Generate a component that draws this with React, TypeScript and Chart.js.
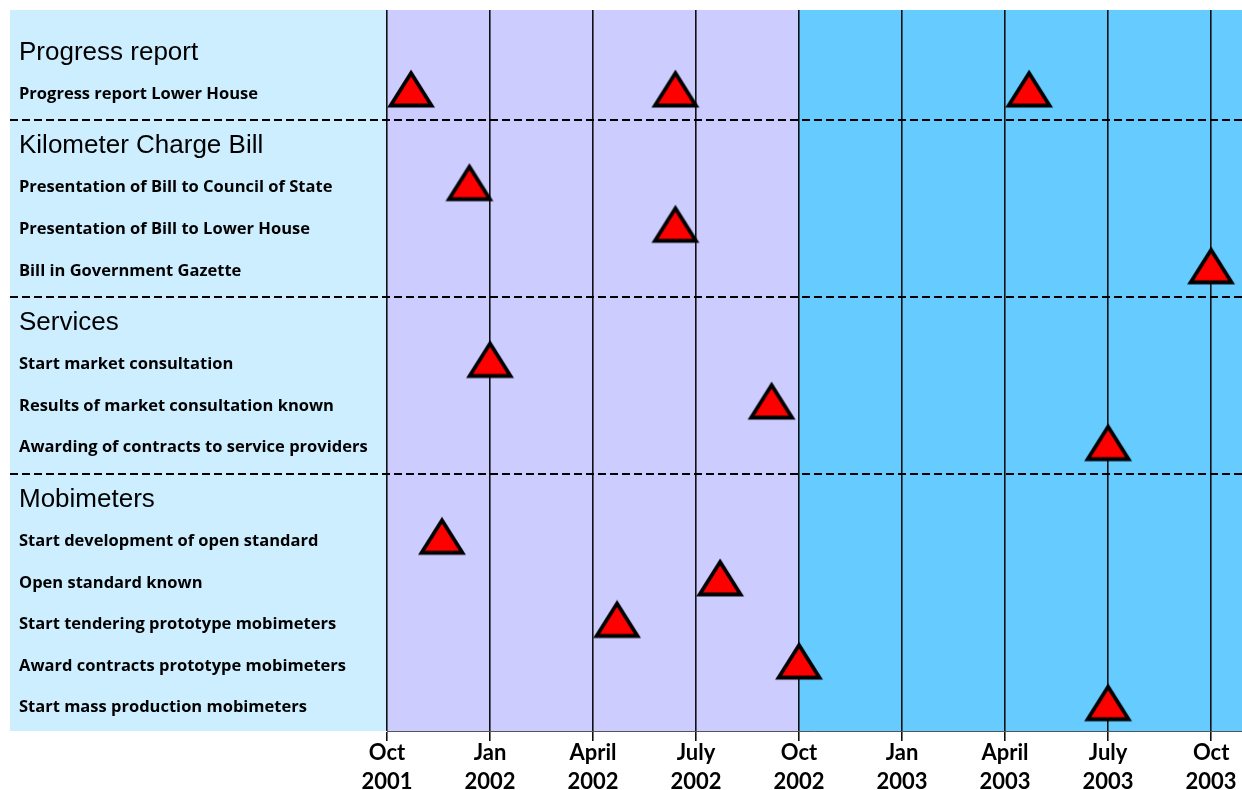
import React, { useEffect, useRef } from 'react';
import { Chart, registerables } from 'chart.js';

Chart.register(...registerables);

// ---------- data ----------
const groupNames = ['Progress report', 'Kilometer Charge Bill', 'Services', 'Mobimeters'];
const taskNames = [
  'Progress report Lower House',
  'Presentation of Bill to Council of State',
  'Presentation of Bill to Lower House',
  'Bill in Government Gazette',
  'Start market consultation',
  'Results of market consultation known',
  'Awarding of contracts to service providers',
  'Start development of open standard',
  'Open standard known',
  'Start tendering prototype mobimeters',
  'Award contracts prototype mobimeters',
  'Start mass production mobimeters',
];
const taskGroup = [0, 1, 1, 1, 2, 2, 2, 3, 3, 3, 3, 3];
// milestones: task index and date in months after 1 Oct 2001
const milestoneTask = [0, 0, 0, 1, 2, 3, 4, 5, 6, 7, 8, 9, 10, 11];
const milestoneMonth = [0.7, 8.4, 18.7, 2.4, 8.4, 24.0, 3.0, 11.2, 21.0, 1.6, 9.7, 6.7, 12.0, 21.0];
const tickMonths = ['Oct', 'Jan', 'April', 'July', 'Oct', 'Jan', 'April', 'July', 'Oct'];
const tickYears = ['2001', '2002', '2002', '2002', '2002', '2003', '2003', '2003', '2003'];
const tickStep = 3; // months between ticks
const phaseEndMonth = 12; // Oct 2002: end of first (purple) phase
const axisMaxMonth = 24.9;

// ---------- layout helpers ----------
const GROUP_GAP = 0.25;
type Row = { label: string; header: boolean; pos: number };
const rows: Row[] = [];
const taskPos: number[] = [];
const separators: number[] = [];
(() => {
  let k = 0;
  let n = 0;
  groupNames.forEach((g, gi) => {
    if (gi > 0) n++;
    const hp = k + GROUP_GAP * n;
    if (gi > 0) separators.push((hp + rows[rows.length - 1].pos) / 2);
    rows.push({ label: g, header: true, pos: hp });
    k++;
    taskNames.forEach((t, ti) => {
      if (taskGroup[ti] !== gi) return;
      const p = k + GROUP_GAP * n;
      rows.push({ label: t, header: false, pos: p });
      taskPos[ti] = p;
      k++;
    });
  });
})();

function makeTriangle(): HTMLCanvasElement {
  const c = document.createElement('canvas');
  c.width = 52;
  c.height = 50;
  const g = c.getContext('2d')!;
  g.beginPath();
  g.moveTo(26, 4);
  g.lineTo(46.5, 36.5);
  g.lineTo(5.5, 36.5);
  g.closePath();
  g.fillStyle = '#FF0000';
  g.fill();
  g.lineWidth = 3.8;
  g.lineJoin = 'miter';
  g.strokeStyle = '#000000';
  g.stroke();
  return c;
}

const bgPlugin = {
  id: 'bgPanels',
  beforeDraw(chart: any) {
    const { ctx, chartArea: a, scales } = chart;
    const x = scales.x;
    const h = a.bottom - a.top;
    ctx.save();
    ctx.fillStyle = '#CCEEFF';
    ctx.fillRect(10, a.top, a.left - 10, h);
    const xm = x.getPixelForValue(phaseEndMonth);
    ctx.fillStyle = '#CCCCFF';
    ctx.fillRect(a.left, a.top, xm - a.left, h);
    ctx.fillStyle = '#66CCFF';
    ctx.fillRect(xm, a.top, a.right - xm, h);
    ctx.restore();
  },
  beforeDatasetsDraw(chart: any) {
    const { ctx, chartArea: a, scales } = chart;
    const y = scales.y;
    ctx.save();
    ctx.strokeStyle = '#000000';
    ctx.lineWidth = 2;
    ctx.setLineDash([8, 4]);
    separators.forEach((s) => {
      const py = Math.round(y.getPixelForValue(s));
      ctx.beginPath();
      ctx.moveTo(10, py);
      ctx.lineTo(a.right, py);
      ctx.stroke();
    });
    ctx.restore();
  },
};

export default function App() {
  const ref = useRef<HTMLCanvasElement | null>(null);
  useEffect(() => {
    if (!ref.current) return;
    const tri = makeTriangle();
    const points = milestoneTask.map((t, i) => ({ x: milestoneMonth[i], y: taskPos[t] }));
    const first = rows[0].pos;
    const last = rows[rows.length - 1].pos;
    const chart = new Chart(ref.current, {
      type: 'scatter',
      data: {
        datasets: [
          {
            data: points,
            pointStyle: tri as any,
            showLine: false,
          },
        ],
      },
      options: {
        animation: false,
        responsive: false,
        events: [],
        layout: { autoPadding: false, padding: { left: 19, top: 10, right: 0, bottom: 0 } },
        plugins: { legend: { display: false }, tooltip: { enabled: false } },
        scales: {
          x: {
            type: 'linear',
            position: 'bottom',
            min: 0,
            max: axisMaxMonth,
            afterBuildTicks: (axis: any) => {
              axis.ticks = tickMonths.map((_, i) => ({ value: i * tickStep }));
            },
            afterFit: (axis: any) => {
              axis.height = 59;
              axis.paddingLeft = 0;
              axis.paddingRight = 0;
            },
            ticks: {
              autoSkip: false,
              maxRotation: 0,
              padding: -3,
              color: '#000000',
              font: { family: 'Lato', weight: 'bold', size: 22, lineHeight: 1.32 },
              callback: (_v: any, i: number) => [tickMonths[i], tickYears[i]],
            },
            grid: {
              color: '#111111',
              lineWidth: 1.6,
              tickLength: 10,
              drawOnChartArea: true,
            },
            border: { display: true, color: '#555555', width: 1 },
          },
          y: {
            type: 'linear',
            position: 'left',
            reverse: true,
            min: first - 1.02,
            max: last + 0.56,
            afterBuildTicks: (axis: any) => {
              axis.ticks = rows.map((r) => ({ value: r.pos }));
            },
            afterFit: (axis: any) => {
              axis.width = 368;
              axis.paddingTop = 0;
              axis.paddingBottom = 0;
            },
            ticks: {
              autoSkip: false,
              crossAlign: 'far',
              padding: 0,
              color: '#000000',
              font: (ctx: any) =>
                rows[ctx.index] && rows[ctx.index].header
                  ? { family: 'Liberation Sans', weight: 'normal', size: 26 }
                  : { family: 'Open Sans', weight: 'bold', size: 16.5 },
              callback: (_v: any, i: number) => (rows[i] ? rows[i].label : ''),
            },
            grid: { display: false },
            border: { display: false },
          },
        },
      },
      plugins: [bgPlugin],
    } as any);
    return () => chart.destroy();
  }, []);
  return (
    <div style={{ position: 'absolute', left: 0, top: 0, width: 1242, height: 790 }}>
      <canvas ref={ref} width={1242} height={790} />
    </div>
  );
}
